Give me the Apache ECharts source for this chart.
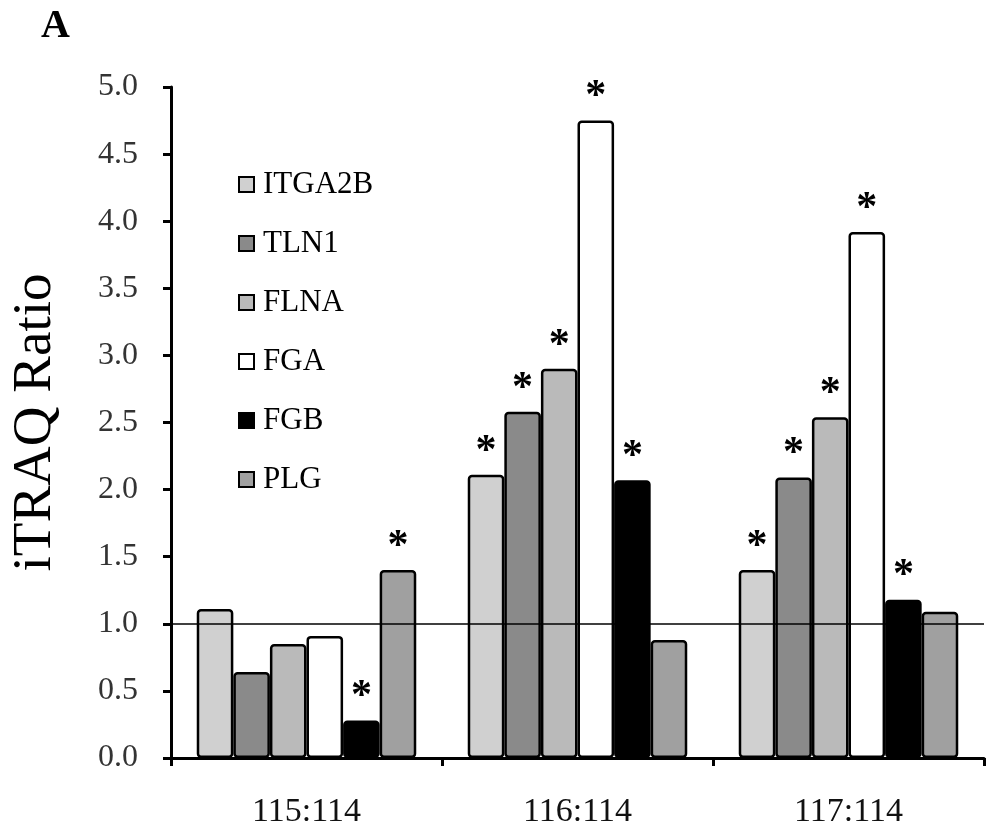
<!DOCTYPE html>
<html>
<head>
<meta charset="utf-8">
<script src="https://cdn.jsdelivr.net/npm/echarts@6/dist/echarts.min.js"></script>
<style>
html,body{margin:0;padding:0;background:#fff;}
#chart{width:986px;height:832px;}
</style>
</head>
<body>
<div id="chart"></div>
<script>
const categories = ['115:114', '116:114', '117:114'];
const seriesNames = ['ITGA2B', 'TLN1', 'FLNA', 'FGA', 'FGB', 'PLG'];
const ITGA2B = [1.11, 2.11, 1.40];
const TLN1 = [0.64, 2.58, 2.09];
const FLNA = [0.85, 2.90, 2.54];
const FGA = [0.91, 4.75, 3.92];
const FGB = [0.28, 2.07, 1.18];
const PLG = [1.40, 0.88, 1.09];
const sigITGA2B = [false, true, true];
const sigTLN1 = [false, true, true];
const sigFLNA = [false, true, true];
const sigFGA = [false, true, true];
const sigFGB = [true, true, true];
const sigPLG = [true, false, false];
const yTicks = [0, 0.5, 1, 1.5, 2, 2.5, 3, 3.5, 4, 4.5, 5];
const referenceLine = 1.0;

const values = [ITGA2B, TLN1, FLNA, FGA, FGB, PLG];
const sigs = [sigITGA2B, sigTLN1, sigFLNA, sigFGA, sigFGB, sigPLG];
const fills = ['#d0d0d0', '#8a8a8a', '#bababa', '#ffffff', '#000000', '#a0a0a0'];
const serif = '"Liberation Serif", "Times New Roman", serif';

const series = seriesNames.map((name, i) => {
  const s = {
    name: name,
    type: 'bar',
    barGap: '0%',
    barCategoryGap: '19%',
    itemStyle: { color: fills[i], borderColor: '#000', borderWidth: 2.5, borderRadius: 3 },
    data: values[i].map((v, j) => ({
      value: v,
      label: {
        show: sigs[i][j], position: 'top', formatter: '*', distance: 2,
        fontFamily: serif, fontSize: 42, fontWeight: 'bold', color: '#000'
      }
    }))
  };
  if (i === 0) {
    s.markLine = {
      silent: true, symbol: 'none', label: { show: false },
      lineStyle: { color: '#000', width: 1.5, type: 'solid' },
      data: [{ yAxis: referenceLine }]
    };
  }
  return s;
});

const chart = echarts.init(document.getElementById('chart'));
chart.setOption({
  animation: false,
  backgroundColor: '#fff',
  title: {
    text: 'A', left: 36, top: 2,
    textStyle: { fontFamily: serif, fontSize: 40, fontWeight: 'bold', color: '#000' }
  },
  legend: {
    orient: 'vertical', left: 233, top: 164,
    itemWidth: 15, itemHeight: 15, itemGap: 28,
    icon: 'rect',
    data: seriesNames,
    itemStyle: { borderColor: '#000', borderWidth: 2 },
    textStyle: { fontFamily: serif, fontSize: 31, color: '#000', lineHeight: 31, padding: [0, 0, 0, 4] }
  },
  grid: { left: 163, right: 2, top: 87, bottom: 74 },
  xAxis: {
    type: 'category',
    data: categories,
    axisLine: { lineStyle: { color: '#000', width: 3 } },
    axisTick: { show: true, length: 8, inside: false, lineStyle: { color: '#000', width: 3 } },
    axisLabel: { fontFamily: serif, fontSize: 34, color: '#111', margin: 37 }
  },
  yAxis: {
    type: 'value',
    min: yTicks[0], max: yTicks[yTicks.length - 1], interval: 0.5,
    name: 'iTRAQ Ratio',
    nameLocation: 'middle',
    nameGap: 108,
    nameRotate: 90,
    nameTextStyle: { fontFamily: serif, fontSize: 55, color: '#000' },
    splitLine: { show: false },
    axisLine: { show: true, lineStyle: { color: '#000', width: 3 } },
    axisTick: { show: true, length: 8, inside: false, lineStyle: { color: '#000', width: 3 } },
    axisLabel: {
      fontFamily: serif, fontSize: 32, color: '#333', margin: 33,
      formatter: v => v.toFixed(1)
    }
  },
  series: series
});
</script>
</body>
</html>
